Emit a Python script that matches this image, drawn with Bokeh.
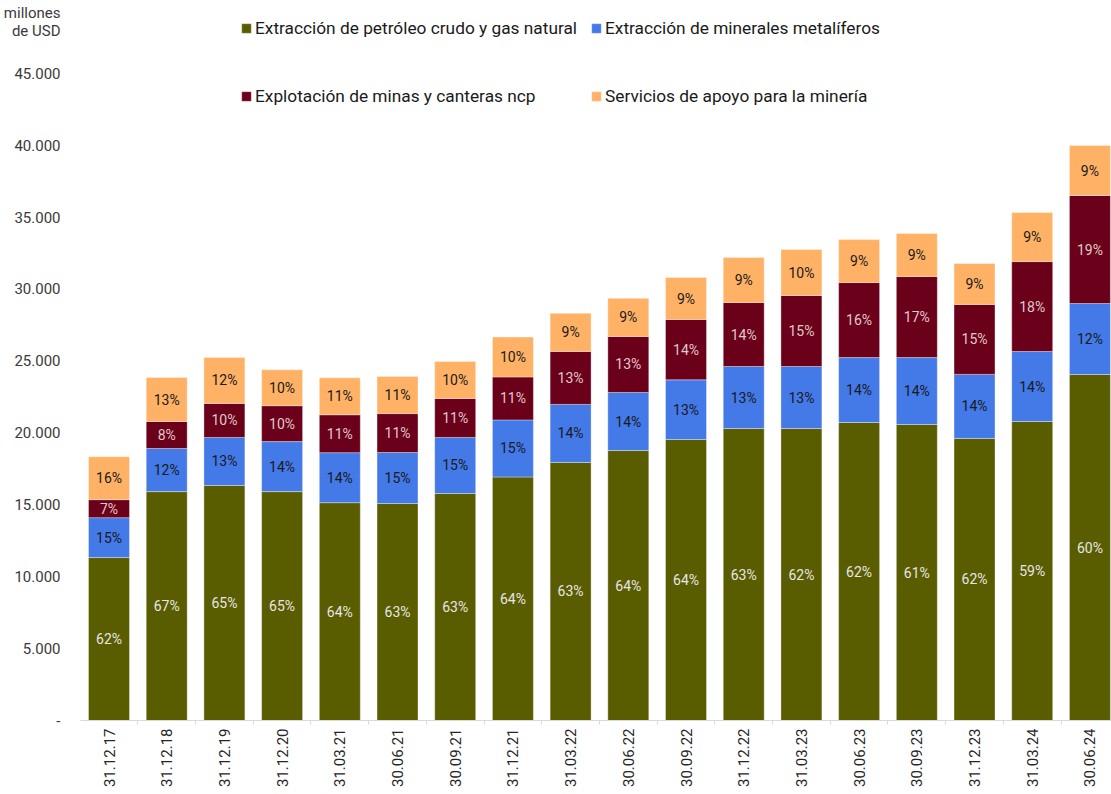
import math
from bokeh.plotting import figure
from bokeh.models import (ColumnDataSource, Range1d, FixedTicker, Legend,
                          LegendItem)
from bokeh.core.properties import value
from bokeh.embed import file_html
from bokeh.resources import INLINE

# ---------------- data (millones de USD) ----------------
fechas = ["31.12.17", "31.12.18", "31.12.19", "31.12.20", "31.03.21", "30.06.21",
          "30.09.21", "31.12.21", "31.03.22", "30.06.22", "30.09.22", "31.12.22",
          "31.03.23", "30.06.23", "30.09.23", "31.12.23", "31.03.24", "30.06.24"]

petroleo    = [11340, 15930, 16360, 15930, 15160, 15100, 15800, 16950, 17960,
               18790, 19560, 20320, 20320, 20740, 20600, 19630, 20810, 24080]
metaliferos = [2780, 3000, 3340, 3480, 3480, 3550, 3900, 3970, 4040,
               4040, 4150, 4320, 4320, 4520, 4660, 4460, 4870, 4940]
minas       = [1250, 1880, 2370, 2500, 2640, 2710, 2710, 2990, 3690,
               3900, 4200, 4450, 4940, 5220, 5640, 4870, 6260, 7520]
servicios   = [2990, 3060, 3200, 2500, 2570, 2580, 2580, 2780, 2650,
               2650, 2920, 3130, 3200, 2990, 2990, 2850, 3410, 3480]

pct_petroleo    = [62, 67, 65, 65, 64, 63, 63, 64, 63, 64, 64, 63, 62, 62, 61, 62, 59, 60]
pct_metaliferos = [15, 12, 13, 14, 14, 15, 15, 15, 14, 14, 13, 13, 13, 14, 14, 14, 14, 12]
pct_minas       = [7, 8, 10, 10, 11, 11, 11, 11, 13, 13, 14, 14, 15, 16, 17, 15, 18, 19]
pct_servicios   = [16, 13, 12, 10, 11, 11, 10, 10, 9, 9, 9, 9, 10, 9, 9, 9, 9, 9]

series_names = ["Extracción de petróleo crudo y gas natural",
                "Extracción de minerales metalíferos",
                "Explotación de minas y canteras ncp",
                "Servicios de apoyo para la minería"]
colors = ["#5A5C00", "#4479E8", "#6B001A", "#FFB266"]
label_colors = ["#E6E6E6", "#1A1A1A", "#E0C8CC", "#1A1A1A"]

y_ticks = [0, 5000, 10000, 15000, 20000, 25000, 30000, 35000, 40000, 45000]
unit_lines = ["millones", "de USD"]

FONT = "Roboto"

# ---------------- figure ----------------
xs = list(range(len(fechas)))
src = ColumnDataSource(dict(x=xs, petroleo=petroleo, metaliferos=metaliferos,
                            minas=minas, servicios=servicios))

p = figure(width=1111, height=794, output_backend="svg", toolbar_location=None,
           x_range=Range1d(-0.494, 17.374), y_range=Range1d(0, 50112),
           min_border_left=80, min_border_right=0, min_border_top=0,
           min_border_bottom=74)
p.outline_line_color = None
p.xgrid.visible = False
p.ygrid.visible = False
p.background_fill_color = "white"

stack_keys = ["petroleo", "metaliferos", "minas", "servicios"]
renderers = p.vbar_stack(stack_keys, x="x", width=0.71, source=src,
                         fill_color=colors, line_color="white", line_alpha=0.35,
                         line_width=1)

# percentage labels in the middle of each segment
series_vals = [petroleo, metaliferos, minas, servicios]
series_pcts = [pct_petroleo, pct_metaliferos, pct_minas, pct_servicios]
lx, ly, lt, lc = [], [], [], []
for i in xs:
    base = 0
    for k in range(4):
        v = series_vals[k][i]
        lx.append(i)
        ly.append(base + v / 2)
        lt.append(f"{series_pcts[k][i]}%")
        lc.append(label_colors[k])
        base += v
lab_src = ColumnDataSource(dict(x=lx, y=ly, text=lt, color=lc))
p.text(x="x", y="y", text="text", text_color="color", source=lab_src,
       text_align="center", text_baseline="middle",
       text_font=value(FONT), text_font_size="14px")

# ---------------- axes ----------------
xa = p.xaxis[0]
xa.ticker = FixedTicker(ticks=xs, minor_ticks=[i - 0.5 for i in range(len(fechas) + 1)])
xa.major_label_overrides = {i: f for i, f in enumerate(fechas)}
xa.major_label_orientation = math.pi / 2
xa.major_label_text_font = FONT
xa.major_label_text_font_size = "15px"
xa.major_label_text_color = "#262626"
xa.major_label_standoff = 2
xa.major_tick_line_color = None
xa.minor_tick_out = 4
xa.minor_tick_in = 0
xa.minor_tick_line_color = "#D9D9D9"
xa.axis_line_color = "#D9D9D9"
xa.axis_line_width = 1

# y axis: value ticks plus the unit text ("millones de USD") at the top
unit_pos = [49256, 48024]
ya = p.yaxis[0]
ya.ticker = FixedTicker(ticks=y_ticks + unit_pos)
overrides = {t: ("-" if t == 0 else f"{t:,}".replace(",", ".")) for t in y_ticks}
overrides.update({pos: txt for pos, txt in zip(unit_pos, unit_lines)})
ya.major_label_overrides = overrides
ya.major_label_text_font = FONT
ya.major_label_text_font_size = "15px"
ya.major_label_text_color = "#3A3A3A"
ya.major_label_standoff = 14
ya.major_tick_line_color = None
ya.minor_tick_line_color = None
ya.axis_line_color = None

# ---------------- legend (four single-item legends) ----------------
legend_pos = [(160, 682), (510, 682), (160, 614), (510, 614)]
for r, name, loc in zip(renderers, series_names, legend_pos):
    leg = Legend(items=[LegendItem(label=name, renderers=[r])], location=loc,
                 orientation="horizontal", padding=0, margin=0, spacing=0,
                 glyph_width=12, glyph_height=12, label_height=12,
                 label_standoff=3, border_line_alpha=0,
                 background_fill_alpha=0,
                 label_text_font=FONT, label_text_font_size="17.3px",
                 label_text_color="#1A1A1A")
    p.add_layout(leg)

open("out.html", "w").write(file_html(p, INLINE))
